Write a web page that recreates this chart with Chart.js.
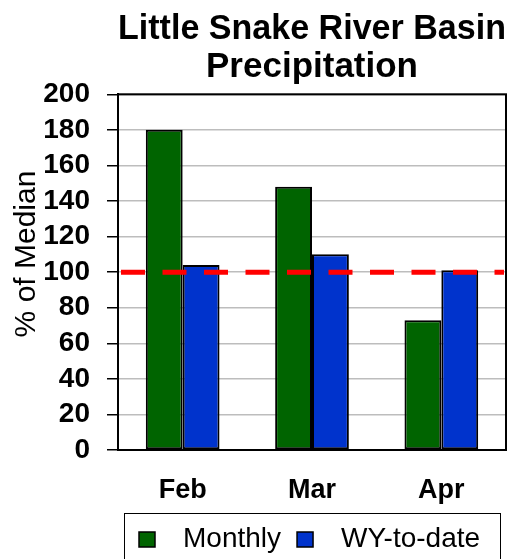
<!DOCTYPE html>
<html>
<head>
<meta charset="utf-8">
<title>Little Snake River Basin Precipitation</title>
<script src="https://cdn.jsdelivr.net/npm/chart.js@4.4.1/dist/chart.umd.min.js"></script>
<style>
  html, body { margin: 0; padding: 0; background: #fff; }
  #wrap { width: 524px; height: 559px; position: relative; }
</style>
</head>
<body>
<div id="wrap"><canvas id="chart"></canvas></div>
<script>
// Percent of median precipitation, by month
const months = ['Feb', 'Mar', 'Apr'];
const monthly = [180, 148, 73];
const wyToDate = [104, 110, 101];
const yTicks = [0, 20, 40, 60, 80, 100, 120, 140, 160, 180, 200];
const medianLine = 100;

const FONT = "'Liberation Sans', Arial, sans-serif";

// red dashed 100% line plus the black frame round the plot area
const medianAndFrame = {
  id: 'medianAndFrame',
  afterDatasetsDraw(chart) {
    const { ctx, chartArea: a, scales } = chart;
    const y = scales.y.getPixelForValue(medianLine);
    ctx.save();
    ctx.strokeStyle = '#ff0000';
    ctx.lineWidth = 5;
    ctx.setLineDash([24, 17.5]);
    ctx.beginPath();
    ctx.moveTo(a.left + 3, y);
    ctx.lineTo(a.right - 2, y);
    ctx.stroke();
    ctx.setLineDash([]);
    ctx.strokeStyle = '#000';
    ctx.lineWidth = 2;
    ctx.strokeRect(a.left, a.top, a.right - a.left, a.bottom - a.top);
    ctx.restore();
  }
};

// y title sits a bit above the plot middle, legend is a boxed row at the bottom
const extras = {
  id: 'extras',
  afterDraw(chart) {
    const ctx = chart.ctx;
    ctx.save();
    ctx.fillStyle = '#000';
    ctx.font = '30px ' + FONT;
    ctx.textAlign = 'center';
    ctx.textBaseline = 'middle';
    ctx.translate(27, 254);
    ctx.rotate(-Math.PI / 2);
    ctx.fillText('% of Median', 0, 0);
    ctx.restore();

    ctx.save();
    ctx.strokeStyle = '#000';
    ctx.lineWidth = 1;
    ctx.strokeRect(124.5, 513.5, 376, 60);
    ctx.font = '28px ' + FONT;
    ctx.textBaseline = 'alphabetic';
    let x = 139;
    chart.data.datasets.forEach(ds => {
      ctx.fillStyle = ds.backgroundColor;
      ctx.fillRect(x, 532, 16, 15);
      ctx.lineWidth = 1.5;
      ctx.strokeRect(x, 532, 16, 15);
      ctx.fillStyle = '#000';
      ctx.fillText(ds.label, x + 44, 547);
      x += 44 + ctx.measureText(ds.label).width + 16;
    });
    ctx.restore();
  }
};

new Chart(document.getElementById('chart'), {
  type: 'bar',
  data: {
    labels: months,
    datasets: [
      {
        label: 'Monthly',
        data: monthly,
        backgroundColor: '#006400',
        borderColor: '#000',
        borderWidth: 2,
        borderSkipped: false
      },
      {
        label: 'WY-to-date',
        data: wyToDate,
        backgroundColor: '#0033cc',
        borderColor: '#000',
        borderWidth: 2,
        borderSkipped: false
      }
    ]
  },
  options: {
    responsive: true,
    maintainAspectRatio: false,
    animation: false,
    datasets: {
      bar: { categoryPercentage: 0.57, barPercentage: 1.0 }
    },
    layout: { padding: { left: 0, right: 18, top: 0, bottom: 49 } },
    plugins: {
      legend: { display: false },
      tooltip: { enabled: false },
      title: {
        display: true,
        fullSize: false,
        text: ['Little Snake River Basin', 'Precipitation'],
        color: '#000',
        font: { family: FONT, size: 35, weight: 'bold', lineHeight: 1.09 },
        padding: { top: 10, bottom: 8 }
      }
    },
    scales: {
      x: {
        grid: { display: false, drawTicks: false },
        border: { color: '#000', width: 2 },
        ticks: {
          color: '#000',
          padding: 24,
          font: { family: FONT, size: 27, weight: 'bold' }
        },
        afterFit(scale) { scale.height = 60; }
      },
      y: {
        min: 0,
        max: 200,
        afterBuildTicks(scale) { scale.ticks = yTicks.map(v => ({ value: v })); },
        grid: {
          color: '#bdbdbd',
          lineWidth: 1.5,
          tickColor: '#000',
          tickLength: 11,
          tickWidth: 1.5
        },
        border: { color: '#000', width: 2 },
        ticks: {
          color: '#000',
          padding: 17,
          autoSkip: false,
          font: { family: FONT, size: 28, weight: 'bold' }
        },
        afterFit(scale) { scale.width = 118; }
      }
    }
  },
  plugins: [medianAndFrame, extras]
});
</script>
</body>
</html>
